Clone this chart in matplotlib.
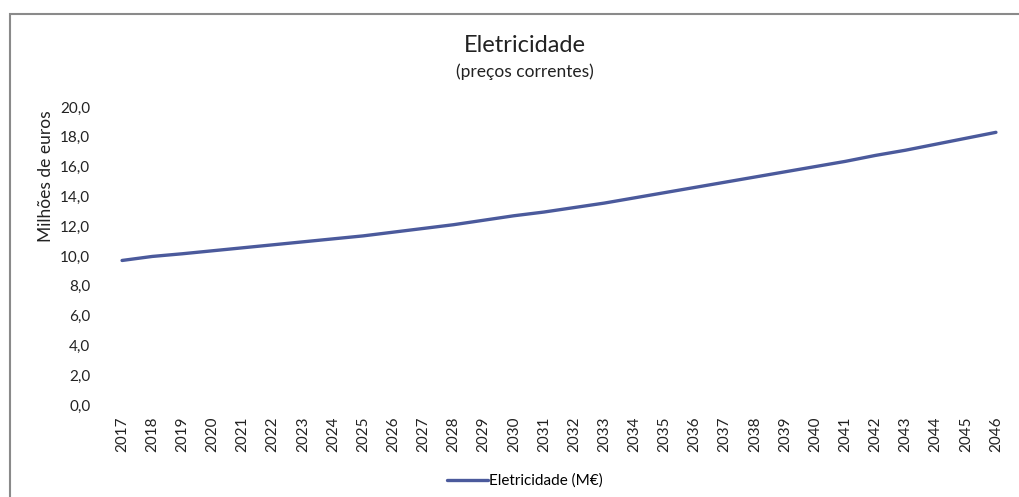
import numpy as np
import matplotlib
matplotlib.use('Agg')
import matplotlib.pyplot as plt
from matplotlib.patches import Rectangle

plt.rcParams['font.family'] = ['Lato', 'DejaVu Sans']

years = [str(y) for y in range(2017, 2047)]
eletricidade = [9.7, 9.97, 10.15, 10.35, 10.55, 10.75, 10.95, 11.15, 11.35, 11.6,
                11.85, 12.1, 12.4, 12.7, 12.95, 13.25, 13.55, 13.9, 14.25, 14.6,
                14.95, 15.3, 15.65, 16.0, 16.35, 16.75, 17.1, 17.5, 17.9, 18.3]
yticks = np.arange(0, 21, 2)

fig = plt.figure(figsize=(10.19, 4.97), dpi=100)
ax = fig.add_axes([107/1019, 1-405/497, (1011-107)/1019, (405-107)/497])

x = np.arange(len(years))
ax.plot(x, eletricidade, color='#4b5a9c', lw=2.4, solid_capstyle='round',
        label='Eletricidade (M€)')

ax.set_xlim(-0.5, len(years)-0.5)
ax.set_ylim(0, 20)
ax.set_xticks(x)
ax.set_xticklabels(years, rotation=90, fontsize=11, color='#222222')
ax.set_yticks(yticks)
ax.set_yticklabels([f'{v:.1f}'.replace('.', ',') for v in yticks], fontsize=11, color='#222222')
ax.tick_params(axis='x', length=0, pad=8)
ax.tick_params(axis='y', length=0, pad=12)
for s in ax.spines.values():
    s.set_visible(False)
ax.set_ylabel('Milhões de euros', fontsize=12.5, color='#222222')
ax.yaxis.set_label_coords((54-107)/904, (405-176)/298)

fig.text(0.515, 1-45/497, 'Eletricidade', ha='center', va='center', fontsize=17, color='#222222')
fig.text(0.515, 1-72/497, '(preços correntes)', ha='center', va='center', fontsize=12.5, color='#222222')

fig.legend(loc='center', bbox_to_anchor=(0.515, 1-481/497), frameon=False, fontsize=11,
           handlelength=2.7, handletextpad=0.1)

# moldura do gráfico
fig.patches.append(Rectangle((10/1019, -0.05), 1.1, 1-14/497+0.05, transform=fig.transFigure,
                             fill=False, edgecolor='#8a8a8a', lw=1.5))

fig.savefig('out.png', dpi=100)
